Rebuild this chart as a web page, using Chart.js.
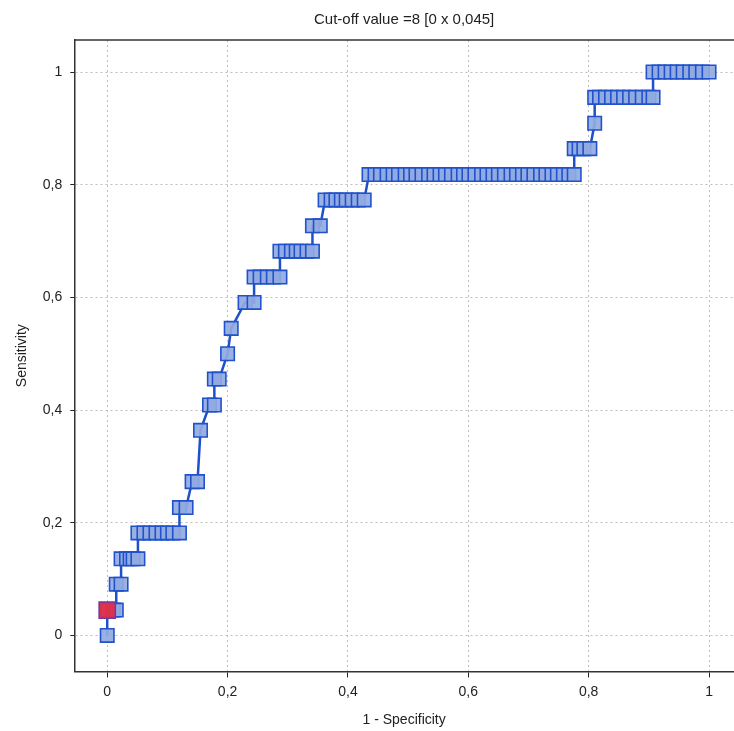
<!DOCTYPE html>
<html>
<head>
<meta charset="utf-8">
<script src="https://cdn.jsdelivr.net/npm/chart.js@4"></script>
<style>
  body { margin: 0; background: #fff; }
  #wrap { width: 734px; height: 731px; }
</style>
</head>
<body>
<div id="wrap"><canvas id="rocChart" width="734" height="731"></canvas></div>
<script>
// ROC curve points (1 - specificity, sensitivity)
const oneMinusSpec = [
  0, 0, 0.01, 0.015, 0.015, 0.023, 0.023, 0.032, 0.038, 0.043, 0.051,
  0.051, 0.061, 0.071, 0.081, 0.091, 0.1, 0.109, 0.12, 0.12, 0.131,
  0.141, 0.15, 0.155, 0.17, 0.178, 0.178, 0.186, 0.2, 0.206, 0.229, 0.244,
  0.244, 0.254, 0.266, 0.276, 0.287, 0.287, 0.296, 0.306, 0.314, 0.322, 0.332, 0.341,
  0.341, 0.354, 0.362, 0.372, 0.38, 0.389, 0.397, 0.407, 0.417, 0.427,
  0.435, 0.445, 0.454, 0.465, 0.475, 0.484, 0.495, 0.504, 0.513, 0.523, 0.534, 0.543,
  0.553, 0.562, 0.572, 0.583, 0.592, 0.601, 0.611, 0.622, 0.631, 0.641, 0.65, 0.66,
  0.671, 0.68, 0.69, 0.699, 0.709, 0.72, 0.729, 0.739, 0.748, 0.758, 0.767, 0.776,
  0.776, 0.784, 0.792, 0.802, 0.81,
  0.81, 0.818, 0.828, 0.838, 0.848, 0.858, 0.868, 0.878, 0.889, 0.9, 0.907,
  0.907, 0.917, 0.927, 0.937, 0.947, 0.957, 0.968, 0.978, 0.989, 1
];
const sensitivity = [
  0, 0.045, 0.045, 0.045, 0.091, 0.091, 0.136, 0.136, 0.136, 0.136, 0.136,
  0.182, 0.182, 0.182, 0.182, 0.182, 0.182, 0.182, 0.182, 0.227, 0.227,
  0.273, 0.273, 0.364, 0.409, 0.409, 0.455, 0.455, 0.5, 0.545, 0.591, 0.591,
  0.636, 0.636, 0.636, 0.636, 0.636, 0.682, 0.682, 0.682, 0.682, 0.682, 0.682, 0.682,
  0.727, 0.727, 0.773, 0.773, 0.773, 0.773, 0.773, 0.773, 0.773, 0.773,
  0.818, 0.818, 0.818, 0.818, 0.818, 0.818, 0.818, 0.818, 0.818, 0.818, 0.818, 0.818,
  0.818, 0.818, 0.818, 0.818, 0.818, 0.818, 0.818, 0.818, 0.818, 0.818, 0.818, 0.818,
  0.818, 0.818, 0.818, 0.818, 0.818, 0.818, 0.818, 0.818, 0.818, 0.818, 0.818, 0.818,
  0.864, 0.864, 0.864, 0.864, 0.909,
  0.955, 0.955, 0.955, 0.955, 0.955, 0.955, 0.955, 0.955, 0.955, 0.955, 0.955,
  1, 1, 1, 1, 1, 1, 1, 1, 1, 1
];
// selected cut-off point
const cutoffX = [0];
const cutoffY = [0.045];
const tickValues = [0, 0.2, 0.4, 0.6, 0.8, 1];

const fmt = v => String(Math.round(v * 10) / 10).replace('.', ',');

// top frame line
const topFrame = {
  id: 'topFrame',
  afterDraw(chart) {
    const { ctx, chartArea } = chart;
    ctx.save();
    ctx.strokeStyle = '#333';
    ctx.lineWidth = 1.5;
    ctx.beginPath();
    ctx.moveTo(chartArea.left, chartArea.top);
    ctx.lineTo(chartArea.right, chartArea.top);
    ctx.stroke();
    ctx.restore();
  }
};

const font = { family: 'Liberation Sans, Arial, sans-serif', size: 14 };

new Chart(document.getElementById('rocChart'), {
  type: 'scatter',
  data: {
    datasets: [{
      data: cutoffX.map((x, i) => ({ x: x, y: cutoffY[i] })),
      pointStyle: 'rect',
      pointRadius: 11.5,
      pointBackgroundColor: 'rgba(225, 45, 70, 0.95)',
      pointBorderColor: '#6a3aa8',
      pointBorderWidth: 1.5,
      order: 0
    }, {
      data: oneMinusSpec.map((x, i) => ({ x: x, y: sensitivity[i] })),
      showLine: true,
      borderColor: '#1f50cc',
      borderWidth: 2.5,
      pointStyle: 'rect',
      pointRadius: 9.5,
      pointBackgroundColor: 'rgba(145, 170, 226, 0.92)',
      pointBorderColor: '#2152cc',
      pointBorderWidth: 1.6,
      order: 1
    }]
  },
  options: {
    responsive: false,
    animation: false,
    layout: { autoPadding: false, padding: { top: 0, right: 0, left: 7, bottom: 2 } },
    plugins: {
      legend: { display: false },
      tooltip: { enabled: false },
      title: {
        display: true,
        fullSize: false,
        text: 'Cut-off value =8 [0 x 0,045]',
        color: '#222',
        font: { family: font.family, size: 15, weight: 'normal' },
        padding: { top: 11, bottom: 11 }
      }
    },
    scales: {
      x: {
        type: 'linear',
        min: -0.0548,
        max: 1.0415,
        afterBuildTicks: axis => { axis.ticks = tickValues.map(v => ({ value: v })); },
        ticks: { color: '#222', font: font, padding: 6, callback: v => fmt(v), maxRotation: 0 },
        grid: { color: '#bdbdbd', tickColor: '#222', tickLength: 6, lineWidth: 1 },
        border: { color: '#333', width: 1.5, dash: [2, 3] },
        title: { display: true, text: '1 - Specificity', color: '#222', font: font, padding: { top: 6, bottom: 0 } }
      },
      y: {
        type: 'linear',
        min: -0.0638,
        max: 1.0568,
        afterBuildTicks: axis => { axis.ticks = tickValues.map(v => ({ value: v })); },
        ticks: { color: '#222', font: font, padding: 8, callback: v => fmt(v) },
        grid: { color: '#bdbdbd', tickColor: '#222', tickLength: 4, lineWidth: 1 },
        border: { color: '#333', width: 1.5, dash: [2, 3] },
        title: { display: true, text: 'Sensitivity', color: '#222', font: font, padding: { top: 7, bottom: 4 } }
      }
    }
  },
  plugins: [topFrame]
});
</script>
</body>
</html>
